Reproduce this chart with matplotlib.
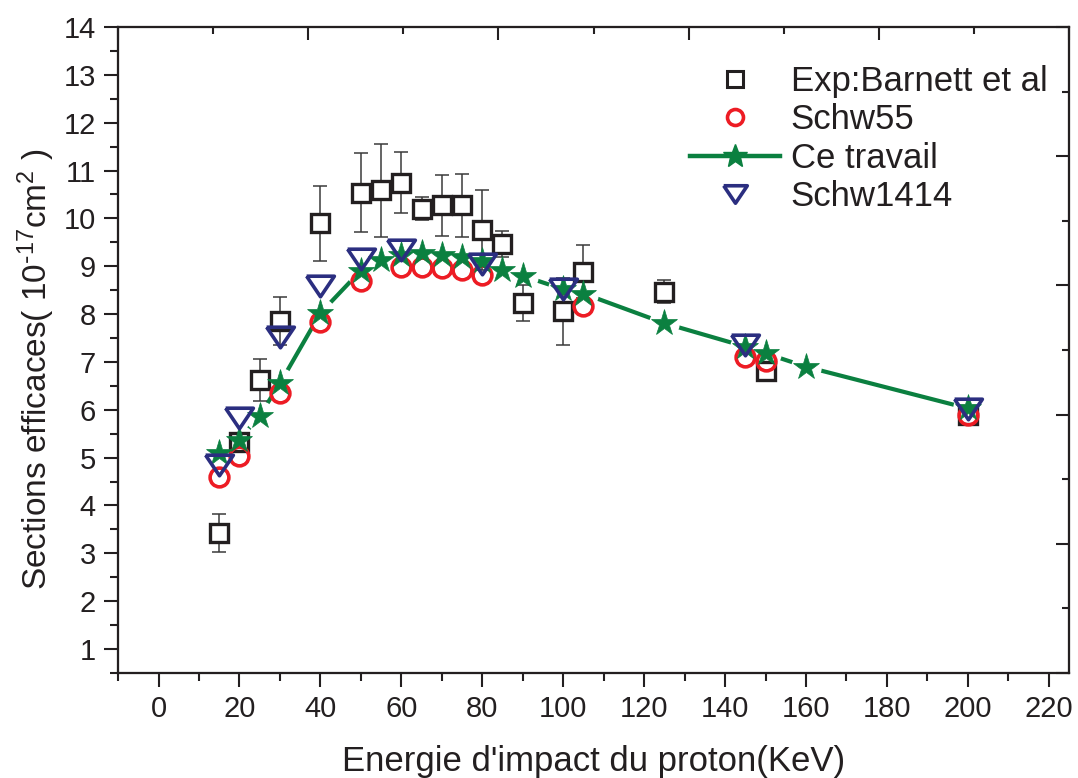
import matplotlib
matplotlib.use("Agg")
import matplotlib.pyplot as plt
from matplotlib.lines import Line2D
from matplotlib.ticker import MultipleLocator

plt.rcParams['font.family'] = ['Liberation Sans', 'DejaVu Sans']
plt.rcParams['mathtext.default'] = 'regular'

# Experimental data (Barnett et al) with error bars
exp_x = [15, 20, 25, 30, 40, 50, 55, 60, 65, 70, 75, 80, 85, 90, 100, 105, 125, 150, 200]
exp_y = [3.43, 5.33, 6.62, 7.85, 9.90, 10.54, 10.59, 10.75, 10.20, 10.27, 10.27, 9.76,
         9.46, 8.23, 8.06, 8.89, 8.47, 6.82, 5.90]
exp_err = [0.40, 0.15, 0.44, 0.50, 0.78, 0.82, 0.97, 0.63, 0.24, 0.64, 0.66, 0.83,
           0.27, 0.37, 0.70, 0.55, 0.24, 0.15, 0.10]

# Schw55
s55_x = [15, 20, 30, 40, 50, 60, 65, 70, 75, 80, 105, 145, 150, 200]
s55_y = [4.60, 5.03, 6.36, 7.83, 8.69, 8.99, 8.99, 8.96, 8.92, 8.82, 8.16, 7.11, 7.01, 5.89]

# Ce travail
ct_x = [15, 20, 25, 30, 40, 50, 55, 60, 65, 70, 75, 80, 85, 90, 100, 105, 125, 145, 150, 160, 200]
ct_y = [5.10, 5.37, 5.88, 6.55, 8.02, 8.91, 9.13, 9.24, 9.27, 9.24, 9.19, 9.10, 8.92,
        8.80, 8.52, 8.43, 7.81, 7.32, 7.18, 6.90, 6.03]

# Schw1414
s14_x = [15, 20, 30, 40, 50, 60, 80, 100, 145, 200]
s14_y = [4.85, 5.82, 7.53, 8.59, 9.16, 9.33, 9.05, 8.53, 7.35, 6.01]

black = '#231f20'
red = '#ed1c24'
green = '#0b8040'
navy = '#2b2e80'

# wide down-pointing triangle like the original
tri_down = [(-1.35, 1), (1.35, 1), (0, -1), (-1.35, 1)]

fig = plt.figure(figsize=(10.78, 7.78), dpi=100)
ax = fig.add_axes([0.1095, 0.135, 0.8822, 0.8303])

# experimental points
ax.errorbar(exp_x, exp_y, yerr=exp_err, fmt='none', ecolor='#3a3a3a',
            elinewidth=1.1, capsize=5, capthick=1.1, zorder=2.2)
ax.plot(exp_x, exp_y, 's', ms=13, mfc='white', mec=black, mew=2.4, zorder=2.3)

# Schw55
ax.plot(s55_x, s55_y, 'o', ms=13.5, mfc='none', mec=red, mew=2.6, zorder=2.4)

# Ce travail: line with gaps around the stars (Origin style)
ax.plot(ct_x, ct_y, '-', color=green, lw=3, zorder=2.0, solid_capstyle='round')
ax.plot(ct_x, ct_y, 'o', ms=22, mfc='white', mec='none', zorder=2.1)
ax.plot(ct_x, ct_y, '*', ms=20, color=green, mec=green, mew=0.5, zorder=2.5)

# Schw1414
ax.plot(s14_x, s14_y, marker=tri_down, ls='none', ms=20, mfc='none', mec=navy,
        mew=2.6, zorder=2.6)

ax.set_xlim(-10, 225)
ax.set_ylim(0.5, 14)
ax.xaxis.set_minor_locator(MultipleLocator(10))
ax.yaxis.set_minor_locator(MultipleLocator(0.5))
ax.set_xticks(range(0, 221, 20))
ax.set_yticks(range(1, 15))

for s in ax.spines.values():
    s.set_linewidth(1.5)
    s.set_color(black)
ax.tick_params(which='major', direction='out', length=10, width=1.5, labelsize=21,
               colors=black, pad=6)
ax.tick_params(which='minor', direction='out', length=5.5, width=1.5, colors=black)

# Origin-style top and right axes with their own ticks (inward, no labels)
ax_top = ax.twiny()
ax_top.set_xlim(0, 5)
ax_top.xaxis.set_major_locator(MultipleLocator(1))
ax_top.xaxis.set_minor_locator(MultipleLocator(0.5))
ax_top.tick_params(axis='x', which='major', direction='in', length=9.5, width=1.5,
                   labeltop=False, colors=black)
ax_top.tick_params(axis='x', which='minor', direction='in', length=5, width=1.5,
                   colors=black)

ax_right = ax.twinx()
ax_right.set_ylim(0, 5)
ax_right.yaxis.set_major_locator(MultipleLocator(1))
ax_right.yaxis.set_minor_locator(MultipleLocator(0.5))
ax_right.tick_params(axis='y', which='major', direction='in', length=9.5, width=1.5,
                     labelright=False, colors=black)
ax_right.tick_params(axis='y', which='minor', direction='in', length=5, width=1.5,
                     colors=black)
for a in (ax_top, ax_right):
    for s in a.spines.values():
        s.set_linewidth(1.5)
        s.set_color(black)

ax.set_xlabel("Energie d'impact du proton(KeV)", fontsize=25, color=black, labelpad=16)
ax.set_ylabel(r"Sections efficaces( 10$^{\text{-}17}$cm$^{2}$ )", fontsize=24, color=black)
ax.yaxis.set_label_coords(-0.064, 0.47)

handles = [
    Line2D([], [], ls='none', marker='s', ms=11, mfc='white', mec=black, mew=2.2),
    Line2D([], [], ls='none', marker='o', ms=11.5, mfc='none', mec=red, mew=2.6),
    Line2D([], [], ls='-', color=green, lw=3.2, marker='*', ms=18, mec=green),
    Line2D([], [], ls='none', marker=tri_down, ms=17, mfc='none', mec=navy, mew=2.6),
]
labels = ['Exp:Barnett et al', 'Schw55', 'Ce travail', 'Schw1414']
leg = ax_right.legend(handles, labels, loc='upper right', bbox_to_anchor=(0.999, 0.973),
                      frameon=False, fontsize=25, handlelength=2.6, handletextpad=0.3,
                      labelspacing=0.15, borderaxespad=0.2)
for t in leg.get_texts():
    t.set_color(black)

fig.savefig('out.png', dpi=100)
